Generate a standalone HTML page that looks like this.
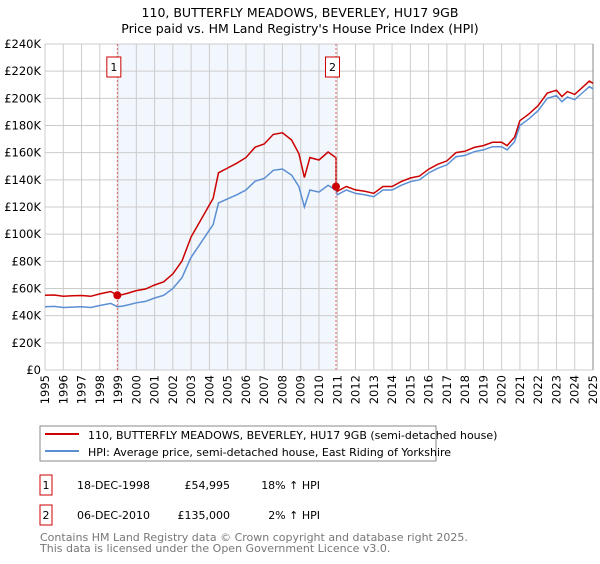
<!DOCTYPE html>
<html><head><meta charset="utf-8"><style>
body{margin:0;background:#fff;font-family:"DejaVu Sans","Liberation Sans",sans-serif;}
svg text{font-family:"DejaVu Sans","Liberation Sans",sans-serif;}
</style></head><body>
<svg id="c" width="600" height="560" xmlns="http://www.w3.org/2000/svg">
<text x="300" y="17" text-anchor="middle" font-size="12.5">110, BUTTERFLY MEADOWS, BEVERLEY, HU17 9GB</text>
<text x="300" y="33" text-anchor="middle" font-size="12.5">Price paid vs. HM Land Registry's House Price Index (HPI)</text>
<g id="plot"></g>
<rect x="40" y="426" width="396" height="35" fill="#fff" stroke="#888"/>
<line x1="45" y1="434" x2="79" y2="434" stroke="#cc0000" stroke-width="2"/>
<text x="88" y="439" font-size="11">110, BUTTERFLY MEADOWS, BEVERLEY, HU17 9GB (semi-detached house)</text>
<line x1="45" y1="451" x2="79" y2="451" stroke="#5b8fd4" stroke-width="2"/>
<text x="88" y="456" font-size="11">HPI: Average price, semi-detached house, East Riding of Yorkshire</text>
<g font-size="11">
<rect x="40" y="475" width="12" height="20" fill="#fff" stroke="#cc0000"/>
<text x="46" y="489" text-anchor="middle">1</text>
<text x="77" y="489">18-DEC-1998</text>
<text x="230" y="489" text-anchor="end">£54,995</text>
<text x="320" y="489" text-anchor="end">18% ↑ HPI</text>
<rect x="40" y="505" width="12" height="20" fill="#fff" stroke="#cc0000"/>
<text x="46" y="519" text-anchor="middle">2</text>
<text x="77" y="519">06-DEC-2010</text>
<text x="230" y="519" text-anchor="end">£135,000</text>
<text x="320" y="519" text-anchor="end">2% ↑ HPI</text>
</g>
<text x="40" y="541" font-size="11" fill="#777">Contains HM Land Registry data © Crown copyright and database right 2025.</text>
<text x="40" y="552" font-size="11" fill="#777">This data is licensed under the Open Government Licence v3.0.</text>
</svg>
<script>
const hpiYears=[1995,1995.5,1996,1996.5,1997,1997.5,1998,1998.6,1998.96,1999.2,1999.5,2000,2000.5,2001,2001.5,2002,2002.5,2003,2003.5,2004,2004.2,2004.5,2005,2005.5,2006,2006.5,2007,2007.5,2008,2008.5,2008.9,2009.2,2009.5,2010,2010.5,2010.93,2011,2011.5,2012,2012.5,2013,2013.5,2014,2014.5,2015,2015.5,2016,2016.5,2017,2017.5,2018,2018.5,2019,2019.5,2020,2020.3,2020.7,2021,2021.5,2022,2022.5,2023,2023.3,2023.6,2024,2024.5,2024.8,2025];
const hpiValues=[46.6,46.8,46,46.3,46.5,46,47.5,49,46.6,47,47.8,49.5,50.5,53,55,60,68,83,93,103,107,123,126,129,132.5,139,141,147,148,143.5,135,120,132.5,131,136,132.4,129,132.5,130,129,127.6,132.5,132.5,136,138.6,140,145,148.5,151,157,158,160.7,162,164.4,164.4,162,168,180,185,191,200,202,197.5,201,199,205,208.6,207];
const saleYears=[1998.96,2010.93];
const salePrices=[54.995,135];
const yTicks=[0,20,40,60,80,100,120,140,160,180,200,220,240];
const xTicks=[1995,1996,1997,1998,1999,2000,2001,2002,2003,2004,2005,2006,2007,2008,2009,2010,2011,2012,2013,2014,2015,2016,2017,2018,2019,2020,2021,2022,2023,2024,2025];
const NS='http://www.w3.org/2000/svg';
const L=45,R=593,T=44,B=370;
const X=y=>L+(y-1995)/30*(R-L);
const Y=v=>B-v/240*(B-T);
const g=document.getElementById('plot');
function mk(t,a){const e=document.createElementNS(NS,t);for(const k in a)e.setAttribute(k,a[k]);g.appendChild(e);return e;}
const bg=mk('rect',{x:X(saleYears[0]),y:T,width:X(saleYears[1])-X(saleYears[0]),height:B-T,fill:'#f2f6fd'});


yTicks.forEach(v=>{const l=mk('line',{x1:L,x2:R,y1:Y(v),y2:Y(v),stroke:'#ccc'});


const t=mk('text',{x:L-4,y:Y(v)+4,'text-anchor':'end','font-size':11.5});t.textContent=v===0?'£0':'£'+v+'K';

});
xTicks.forEach(yr=>{const l=mk('line',{x1:X(yr),x2:X(yr),y1:T,y2:B,stroke:'#ccc'});


const t=mk('text',{x:0,y:0,'text-anchor':'end','font-size':11.5,transform:`translate(${X(yr)+4},${B+5}) rotate(-90)`});t.textContent=yr;

});
const ax=mk('line',{x1:R,x2:R,y1:T,y2:B,stroke:'#888'});


function hpiAt(t){for(let i=1;i<hpiYears.length;i++){if(t<=hpiYears[i]){const f=(t-hpiYears[i-1])/(hpiYears[i]-hpiYears[i-1]);return hpiValues[i-1]+f*(hpiValues[i]-hpiValues[i-1]);}}return hpiValues[hpiValues.length-1];}
const r0=salePrices[0]/hpiAt(saleYears[0]);
const r1=salePrices[1]/hpiAt(saleYears[1]);
const blue=hpiYears.map((t,i)=>X(t).toFixed(1)+','+Y(hpiValues[i]).toFixed(1)).join(' ');
const red=hpiYears.map((t,i)=>{const r=t<saleYears[1]?r0:r1;return X(t).toFixed(1)+','+Y(hpiValues[i]*r).toFixed(1);});
const idx=hpiYears.indexOf(saleYears[1]);
red.splice(idx,0,X(saleYears[1]).toFixed(1)+','+Y(hpiAt(saleYears[1])*r0).toFixed(1));
const bl=mk('polyline',{points:blue,fill:'none',stroke:'#5b8fd4','stroke-width':1.5});


const rl=mk('polyline',{points:red.join(' '),fill:'none',stroke:'#cc0000','stroke-width':1.5});


saleYears.forEach((s,i)=>{const d=mk('line',{x1:X(s),x2:X(s),y1:T,y2:B,stroke:'#e06666','stroke-dasharray':'2,2'});


const c=mk('circle',{cx:X(s),cy:Y(salePrices[i]),r:4,fill:'#cc0000'});


const b=mk('rect',{x:X(s)-10.5,y:57,width:14,height:20,fill:'#fff',stroke:'#cc0000'});


const t=mk('text',{x:X(s)-3.5,y:71,'text-anchor':'middle','font-size':11});t.textContent=i+1;

});
</script>
</body></html>
